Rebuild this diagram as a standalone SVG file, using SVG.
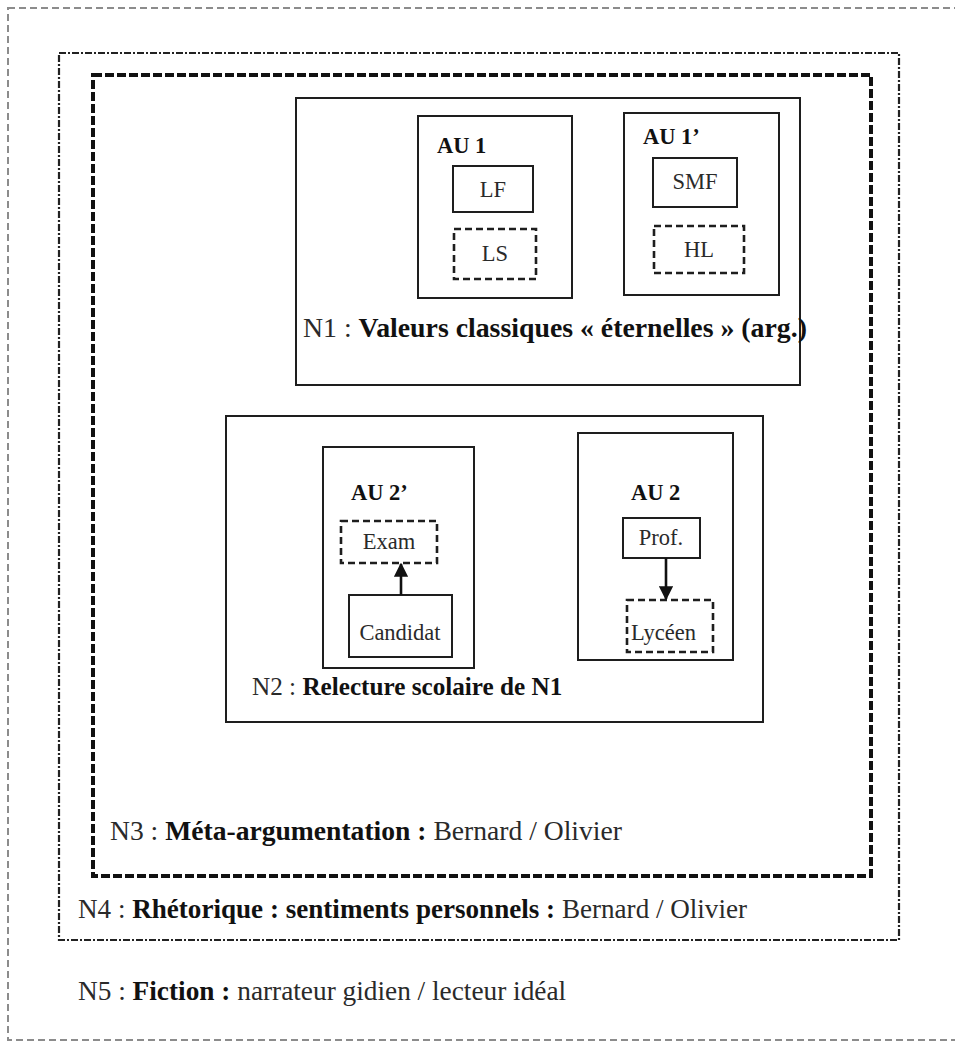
<svg xmlns="http://www.w3.org/2000/svg" width="955" height="1042" viewBox="0 0 955 1042">
<style>
  text { font-family: "Liberation Serif", "Times New Roman", serif; fill: #2a2a2a; }
  .big { font-size: 27px; }
  .sm { font-size: 22.5px; }
  .b { font-weight: bold; fill: #111; }
  .solid { fill: none; stroke: #1e1e1e; stroke-width: 2; }
  .dash { fill: none; stroke: #1e1e1e; stroke-width: 2.6; stroke-dasharray: 7 4; }
  .outer { fill: none; stroke: #8c8c8c; stroke-width: 2; stroke-dasharray: 7 4; }
  .n4 { fill: none; stroke: #222; stroke-width: 2.2; stroke-dasharray: 7 2 2 2; }
  .n3 { fill: none; stroke: #111; stroke-width: 4; stroke-dasharray: 9 3; }
  .arrow { stroke: #111; stroke-width: 2.6; fill: none; marker-end: url(#ah); }
</style>
<defs>
  <marker id="ah" viewBox="0 0 10 10" refX="9" refY="5" markerWidth="5.5" markerHeight="5.5" orient="auto" markerUnits="strokeWidth">
    <path d="M0,0 L10,5 L0,10 Z" fill="#111"/>
  </marker>
</defs>
<rect width="955" height="1042" fill="#ffffff"/>

<g id="N5">
  <rect class="outer" x="8" y="8" width="960" height="1032"/>
  <text class="big" x="78" y="1000" style="font-size:27.3px">N5 : <tspan class="b">Fiction :</tspan> narrateur gidien / lecteur idéal</text>
</g>

<g id="N4">
  <rect class="n4" x="59" y="53" width="840" height="887"/>
  <text class="big" x="78" y="918" style="font-size:27.1px">N4 : <tspan class="b">Rhétorique : sentiments personnels :</tspan> Bernard / Olivier</text>
</g>

<g id="N3">
  <rect class="n3" x="93" y="75" width="778" height="801"/>
  <text class="big" x="110" y="840" style="font-size:27.6px">N3 : <tspan class="b">Méta-argumentation :</tspan> Bernard / Olivier</text>
</g>

<g id="N1">
  <rect class="solid" x="296" y="98" width="504" height="287"/>
  <text class="big" x="303" y="337" style="font-size:27.8px">N1 : <tspan class="b">Valeurs classiques « éternelles » (arg.)</tspan></text>
</g>

<g id="AU1">
  <rect class="solid" x="418" y="116" width="154" height="182"/>
  <text class="sm b" x="437" y="153">AU 1</text>
</g>
<g id="LF">
  <rect class="solid" x="453" y="166" width="80" height="46"/>
  <text class="sm" x="493" y="197" text-anchor="middle">LF</text>
</g>
<g id="LS">
  <rect class="dash" x="454" y="229" width="82" height="50"/>
  <text class="sm" x="495" y="261" text-anchor="middle">LS</text>
</g>

<g id="AU1p">
  <rect class="solid" x="624" y="113" width="155" height="182"/>
  <text class="sm b" x="643" y="144">AU 1’</text>
</g>
<g id="SMF">
  <rect class="solid" x="653" y="158" width="84" height="49"/>
  <text class="sm" x="695" y="189" text-anchor="middle">SMF</text>
</g>
<g id="HL">
  <rect class="dash" x="654" y="226" width="90" height="47"/>
  <text class="sm" x="699" y="257" text-anchor="middle">HL</text>
</g>

<g id="N2">
  <rect class="solid" x="226" y="416" width="537" height="306"/>
  <text class="big" x="252" y="695" style="font-size:25.2px">N2 : <tspan class="b">Relecture scolaire de N1</tspan></text>
</g>

<g id="AU2p">
  <rect class="solid" x="323" y="447" width="151" height="221"/>
  <text class="sm b" x="351" y="500">AU 2’</text>
</g>
<g id="Exam">
  <rect class="dash" x="341" y="521" width="96" height="42"/>
  <text class="sm" x="389" y="549" text-anchor="middle">Exam</text>
</g>
<g id="Candidat">
  <rect class="solid" x="349" y="595" width="103" height="62"/>
  <text class="sm" x="400" y="640" text-anchor="middle">Candidat</text>
</g>

<g id="AU2">
  <rect class="solid" x="578" y="433" width="155" height="227"/>
  <text class="sm b" x="631" y="500">AU 2</text>
</g>
<g id="Prof">
  <rect class="solid" x="623" y="518" width="77" height="40"/>
  <text class="sm" x="661" y="545" text-anchor="middle">Prof.</text>
</g>
<g id="Lyceen">
  <rect class="dash" x="627" y="600" width="86" height="52"/>
  <text class="sm" x="631" y="640">Lycéen</text>
</g>

<g id="connectors">
  <line class="arrow" x1="401" y1="595" x2="401" y2="564"/>
  <line class="arrow" x1="666" y1="558" x2="666" y2="599"/>
</g>
</svg>
